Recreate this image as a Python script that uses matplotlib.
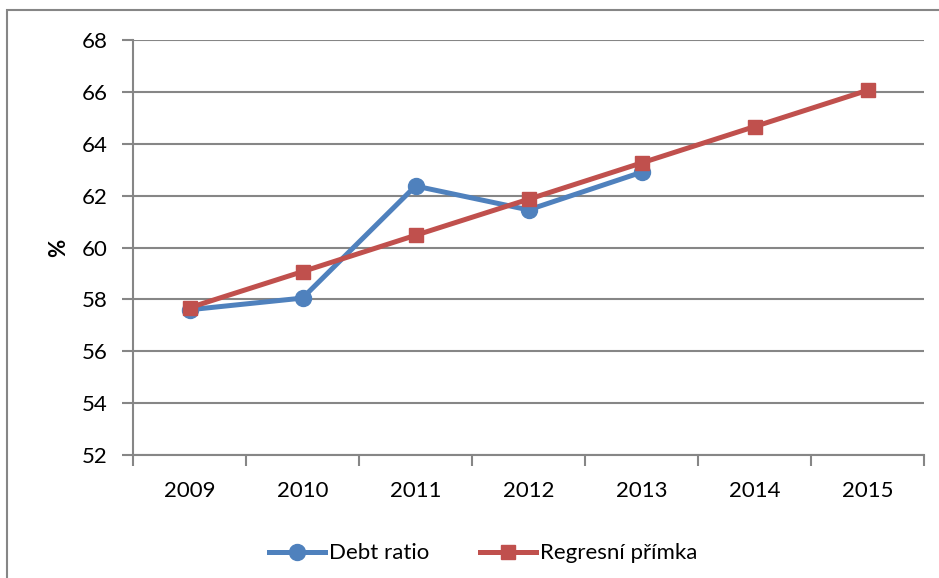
import matplotlib.pyplot as plt
from matplotlib.patches import Rectangle

years = ["2009", "2010", "2011", "2012", "2013", "2014", "2015"]
debt_ratio = [57.6, 58.05, 62.37, 61.45, 62.9]
regression = [57.68, 59.07, 60.47, 61.86, 63.26, 64.66, 66.06]

plt.rcParams["font.family"] = ["Lato", "DejaVu Sans"]
grey = "#868686"
blue = "#4F81BD"
red = "#C0504D"

fig = plt.figure(figsize=(9.39, 5.78), dpi=100)
ax = fig.add_axes([133 / 939, 1 - 455 / 578, (924 - 133) / 939, (455 - 40) / 578])

# outer chart border (right/bottom edges fall outside the image)
fig.patches.append(Rectangle((7 / 939, -0.1), 1.2, 1 - 10 / 578 + 0.1,
                             transform=fig.transFigure, fill=False,
                             edgecolor=grey, linewidth=1.5))

x_all = list(range(len(years)))
ax.plot(x_all[:len(debt_ratio)], debt_ratio, color=blue, lw=3.6, marker="o",
        markersize=11.5, label="Debt ratio", zorder=3)
ax.plot(x_all, regression, color=red, lw=3.6, marker="s",
        markersize=10, label="Regresní přímka", zorder=4)

ax.set_xlim(-0.5, len(years) - 0.5)
ax.set_ylim(52, 68)
ax.set_yticks(range(52, 69, 2))
ax.set_xticks(x_all)
ax.set_xticklabels(years)
ax.set_xticks([i - 0.5 for i in range(len(years) + 1)], minor=True)
ax.tick_params(axis="x", which="major", length=0, pad=19, labelsize=16)
ax.tick_params(axis="x", which="minor", length=8, width=1.5, color=grey)
ax.tick_params(axis="y", length=8, width=1.5, color=grey, labelsize=16, pad=10)

ax.grid(axis="y", color=grey, lw=1.5)
ax.set_axisbelow(True)
for s in ["top", "right"]:
    ax.spines[s].set_visible(False)
for s in ["left", "bottom"]:
    ax.spines[s].set_color(grey)
    ax.spines[s].set_linewidth(1.5)

ax.set_ylabel("%", fontsize=16, fontweight="bold", labelpad=9)

ax.legend(loc="upper center", bbox_to_anchor=(0.443, -0.165), ncol=2, frameon=False,
          fontsize=16, handlelength=2.5, handletextpad=0.2, columnspacing=2.3)

fig.savefig("out.png", dpi=100)
